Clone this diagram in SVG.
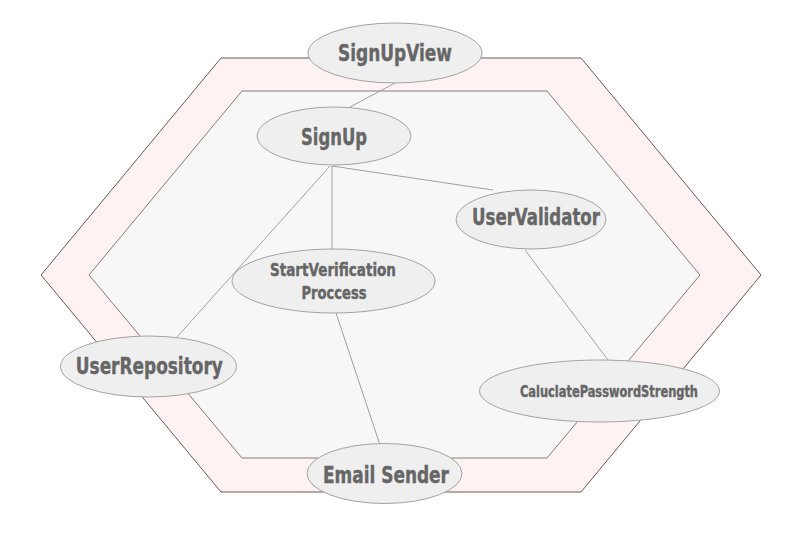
<svg xmlns="http://www.w3.org/2000/svg" width="789" height="540" viewBox="0 0 789 540">
<style>
.outer{fill:#fff2f2;stroke:#6a5a5a;stroke-width:1}
.inner{fill:#f7f7f7;stroke:#857a7a;stroke-width:1}
.node ellipse{fill:#efefef;stroke:#a3a3a3;stroke-width:1}
.node text{font-family:"DejaVu Sans Condensed","DejaVu Sans","Liberation Sans",sans-serif;font-weight:bold;fill:#666666;stroke:#666666;stroke-width:0.4;text-anchor:middle}
.big{font-size:23.5px}
.mid{font-size:17px}
.small{font-size:15px}
#edges line{stroke:#a0a0a0;stroke-width:1}
</style>
<rect width="789" height="540" fill="#ffffff"/>
<g id="hexagons">
<polygon class="outer" points="221,58 581,58 761,275 581,492 221,492 41,275"/>
<polygon class="inner" points="242,91 547,91 700,275 547,458 242,458 89,275"/>
</g>
<g id="edges">
<line x1="395" y1="83" x2="350" y2="107"/>
<line x1="332" y1="166" x2="493" y2="190"/>
<line x1="332" y1="166" x2="332" y2="249"/>
<line x1="330" y1="166" x2="177" y2="337"/>
<line x1="336" y1="313" x2="380" y2="445"/>
<line x1="525" y1="250" x2="608" y2="360"/>
</g>
<g id="SignUpView" class="node">
<ellipse cx="395" cy="53" rx="87" ry="30"/>
<text class="big" x="395" y="61" textLength="114" lengthAdjust="spacingAndGlyphs">SignUpView</text>
</g>
<g id="SignUp" class="node">
<ellipse cx="334" cy="136" rx="77" ry="29"/>
<text class="big" x="334" y="145" textLength="66" lengthAdjust="spacingAndGlyphs">SignUp</text>
</g>
<g id="UserValidator" class="node">
<ellipse cx="531" cy="219.5" rx="75" ry="29.5"/>
<text class="big" x="536" y="225" textLength="128" lengthAdjust="spacingAndGlyphs">UserValidator</text>
</g>
<g id="StartVerificationProccess" class="node">
<ellipse cx="333.5" cy="281" rx="101.5" ry="32"/>
<text class="mid" x="333" y="276" textLength="126" lengthAdjust="spacingAndGlyphs">StartVerification</text>
<text class="mid" x="334" y="298.5" textLength="65" lengthAdjust="spacingAndGlyphs">Proccess</text>
</g>
<g id="UserRepository" class="node">
<ellipse cx="148.5" cy="366.5" rx="88" ry="30.5"/>
<text class="big" x="149.3" y="374" textLength="147" lengthAdjust="spacingAndGlyphs">UserRepository</text>
</g>
<g id="CaluclatePasswordStrength" class="node">
<ellipse cx="599.5" cy="391" rx="120" ry="31"/>
<text class="small" x="609" y="397" textLength="178" lengthAdjust="spacingAndGlyphs">CaluclatePasswordStrength</text>
</g>
<g id="EmailSender" class="node">
<ellipse cx="384.5" cy="473.5" rx="77.5" ry="30"/>
<text class="big" x="386" y="483.3" textLength="126" lengthAdjust="spacingAndGlyphs">Email Sender</text>
</g>
</svg>
